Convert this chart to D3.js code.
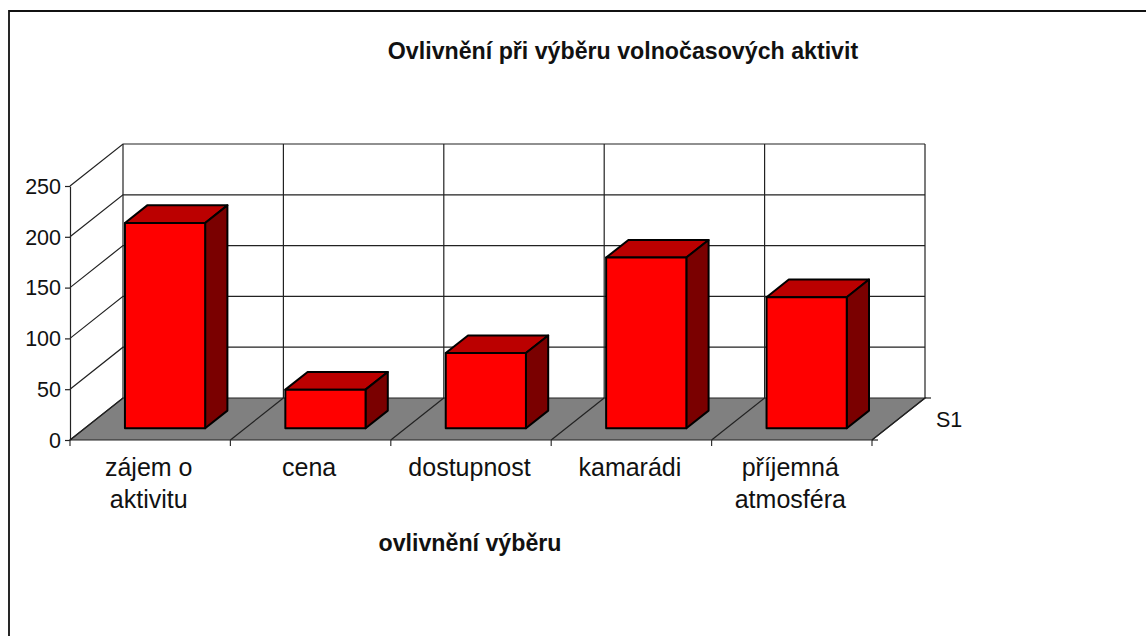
<!DOCTYPE html>
<html>
<head>
<meta charset="utf-8">
<script src="https://cdn.jsdelivr.net/npm/d3@7"></script>
<style>
body { margin: 0; background: #fff; }
svg { display: block; }
text { font-family: "Liberation Sans", Arial, sans-serif; fill: #111; }
.lab { font-size: 25px; }
.num { font-size: 21.5px; }
.bold { font-size: 23.2px; font-weight: bold; }
</style>
</head>
<body>
<div id="chart"></div>
<script>
const categories = ["zájem o aktivitu", "cena", "dostupnost", "kamarádi", "příjemná atmosféra"];
const categoryLines = [["zájem o", "aktivitu"], ["cena"], ["dostupnost"], ["kamarádi"], ["příjemná", "atmosféra"]];
const values = [202, 38, 74, 168, 129];
const yTicks = [0, 50, 100, 150, 200, 250];
const seriesName = "S1";
const titleText = "Ovlivnění při výběru volnočasových aktivit";
const xTitle = "ovlivnění výběru";

const width = 1146;
const height = 636;

const originX = 70;
const originY = 440;
const plotW = 802;
const depthX = 53;
const depthY = -42;

const svg = d3.select("#chart")
    .append("svg")
    .attr("width", width)
    .attr("height", height);

// outer frame, runs off the right and bottom of the picture
svg.append("path")
    .attr("d", `M9,${height} V11 H${width}`)
    .attr("fill", "none")
    .attr("stroke", "#111")
    .attr("stroke-width", 1.8);

const x = d3.scaleBand()
    .domain(categories)
    .range([0, plotW])
    .paddingInner(0.5)
    .paddingOuter(0.25);

const y = d3.scaleLinear()
    .domain([0, 250])
    .range([0, -254]);

const pt = (px, val, d) => [originX + px + d * depthX, originY + y(val) + d * depthY];
const poly = pts => "M" + pts.map(p => p.join(",")).join("L") + "Z";

const boundaries = d3.range(categories.length + 1).map(i => i * x.step());

// floor
svg.append("path")
    .attr("d", poly([pt(0, 0, 0), pt(0, 0, 1), pt(plotW, 0, 1), pt(plotW, 0, 0)]))
    .attr("fill", "#808080")
    .attr("stroke", "#222")
    .attr("stroke-width", 1.2);

// floor lines between categories
svg.append("g").selectAll("line")
    .data(boundaries)
    .enter().append("line")
    .attr("x1", d => pt(d, 0, 0)[0])
    .attr("y1", d => pt(d, 0, 0)[1])
    .attr("x2", d => pt(d, 0, 1)[0])
    .attr("y2", d => pt(d, 0, 1)[1])
    .attr("stroke", "#222")
    .attr("stroke-width", 1.2);

// back wall verticals
svg.append("g").selectAll("line")
    .data(boundaries)
    .enter().append("line")
    .attr("x1", d => pt(d, 0, 1)[0])
    .attr("y1", d => pt(d, 0, 1)[1])
    .attr("x2", d => pt(d, 250, 1)[0])
    .attr("y2", d => pt(d, 250, 1)[1])
    .attr("stroke", "#222")
    .attr("stroke-width", 1.2);

// gridlines on back wall and side wall
const grid = svg.append("g");
yTicks.forEach(t => {
    if (t > 0) {
        grid.append("path")
            .attr("d", "M" + [pt(0, t, 0), pt(0, t, 1), pt(plotW, t, 1)].map(p => p.join(",")).join("L"))
            .attr("fill", "none")
            .attr("stroke", "#222")
            .attr("stroke-width", 1.2);
    }
});

// bars
const dFront = 0.28;
const dBack = 0.7;
const bars = svg.append("g").selectAll("g")
    .data(categories)
    .enter().append("g")
    .attr("stroke", "#000")
    .attr("stroke-width", 2)
    .attr("stroke-linejoin", "round");

const val = (d, i) => values[i];

bars.append("path")
    .attr("fill", "#bb0000")
    .attr("d", (d, i) => poly([
        pt(x(d), val(d, i), dFront),
        pt(x(d), val(d, i), dBack),
        pt(x(d) + x.bandwidth(), val(d, i), dBack),
        pt(x(d) + x.bandwidth(), val(d, i), dFront)
    ]));

bars.append("path")
    .attr("fill", "#7a0000")
    .attr("d", (d, i) => poly([
        pt(x(d) + x.bandwidth(), 0, dFront),
        pt(x(d) + x.bandwidth(), 0, dBack),
        pt(x(d) + x.bandwidth(), val(d, i), dBack),
        pt(x(d) + x.bandwidth(), val(d, i), dFront)
    ]));

bars.append("path")
    .attr("fill", "#ff0000")
    .attr("d", (d, i) => poly([
        pt(x(d), 0, dFront),
        pt(x(d), val(d, i), dFront),
        pt(x(d) + x.bandwidth(), val(d, i), dFront),
        pt(x(d) + x.bandwidth(), 0, dFront)
    ]));

// y axis
const yAxis = svg.append("g")
    .attr("transform", `translate(${originX},${originY})`)
    .call(d3.axisLeft(y).tickValues(yTicks).tickSize(5).tickSizeOuter(0).tickPadding(4));
yAxis.select(".domain").attr("stroke", "#222").attr("stroke-width", 1.2);
yAxis.selectAll("line").attr("stroke", "#222").attr("stroke-width", 1.2);
yAxis.selectAll("text")
    .attr("class", "num")
    .attr("fill", null)
    .attr("dy", "0.34em");
yAxis.attr("font-family", null).attr("font-size", null);

// x axis ticks at category boundaries
svg.append("g").selectAll("line")
    .data(boundaries)
    .enter().append("line")
    .attr("x1", d => originX + d)
    .attr("x2", d => originX + d)
    .attr("y1", originY)
    .attr("y2", originY + 6)
    .attr("stroke", "#333")
    .attr("stroke-width", 1.2);

// category labels
const labels = svg.append("g").selectAll("text")
    .data(categories)
    .enter().append("text")
    .attr("class", "lab")
    .attr("text-anchor", "middle");

labels.each(function (d, i) {
    d3.select(this).selectAll("tspan")
        .data(categoryLines[i])
        .enter().append("tspan")
        .attr("x", originX + x(d) + x.bandwidth() / 2 - 1.5)
        .attr("y", (l, j) => 476 + j * 32)
        .text(l => l);
});

// depth axis tick and series label
svg.append("line")
    .attr("x1", pt(plotW, 0, 1)[0])
    .attr("x2", pt(plotW, 0, 1)[0] + 6)
    .attr("y1", pt(plotW, 0, 1)[1])
    .attr("y2", pt(plotW, 0, 1)[1])
    .attr("stroke", "#222")
    .attr("stroke-width", 1.2);
svg.append("line")
    .attr("x1", pt(plotW, 0, 0)[0])
    .attr("x2", pt(plotW, 0, 0)[0] + 6)
    .attr("y1", originY)
    .attr("y2", originY)
    .attr("stroke", "#222")
    .attr("stroke-width", 1.2);

svg.append("text")
    .attr("class", "num")
    .attr("x", 936)
    .attr("y", 427)
    .text(seriesName);

svg.append("text")
    .attr("class", "bold")
    .attr("x", 623)
    .attr("y", 59)
    .attr("text-anchor", "middle")
    .text(titleText);

svg.append("text")
    .attr("class", "bold")
    .attr("x", 470)
    .attr("y", 551)
    .attr("text-anchor", "middle")
    .text(xTitle);
</script>
</body>
</html>
